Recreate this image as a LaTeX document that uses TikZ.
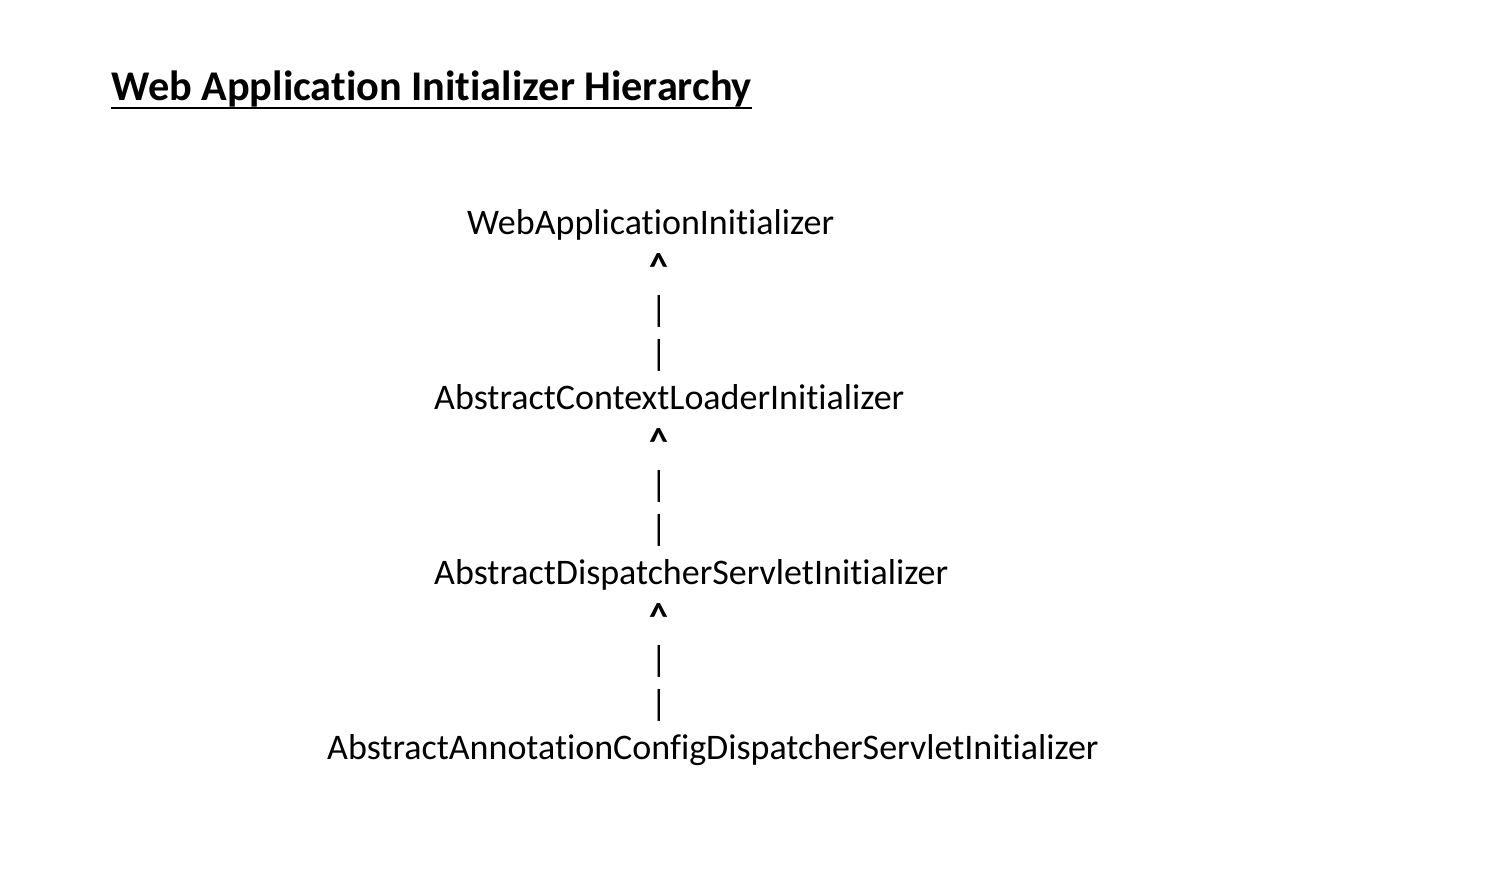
\documentclass[tikz,border=0pt]{standalone}
\usepackage{fontspec}
\setmainfont{Carlito}[Ligatures={NoCommon}]
\begin{document}
\begin{tikzpicture}[x=1pt,y=-1pt,
  cls/.style={anchor=base west,inner sep=0pt,font=\fontsize{36}{44}\selectfont},
  sym/.style={anchor=base,inner sep=0pt,font=\fontsize{36}{44}\selectfont},
  caret/.style={anchor=base,inner sep=0pt,font=\fontsize{38}{44}\selectfont\bfseries},
  ttl/.style={anchor=base west,inner sep=0pt,font=\fontsize{42.3}{50}\selectfont\bfseries}]
\useasboundingbox[fill=white] (0,0) rectangle (1508,884);
\node[ttl] (title) at (111,100) {Web Application Initializer Hierarchy};
\draw[line width=2pt] (title.south west |- 0,108) -- (title.south east |- 0,108);
\node[cls] (w) at (467,234) {WebApplicationInitializer};
\node[caret] (c1) at (659,279) {\^{}};
\node[sym] (b1a) at (659,321) {|};
\node[sym] (b1b) at (659,365) {|};
\node[cls] (acl) at (434,409) {AbstractContextLoaderInitializer};
\node[caret] (c2) at (659,454) {\^{}};
\node[sym] (b2a) at (659,496) {|};
\node[sym] (b2b) at (659,540) {|};
\node[cls] (ads) at (434,584) {AbstractDispatcherServletInitializer};
\node[caret] (c3) at (659,629) {\^{}};
\node[sym] (b3a) at (659,671) {|};
\node[sym] (b3b) at (659,715) {|};
\node[cls] (aac) at (327,759) {AbstractAnnotationConfigDispatcherServletInitializer};
\end{tikzpicture}
\end{document}
